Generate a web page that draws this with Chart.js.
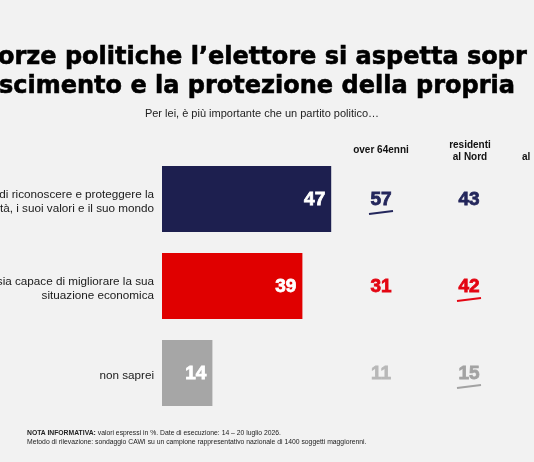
<!DOCTYPE html>
<html lang="it">
<head>
<meta charset="UTF-8">
<title>Riconoscimento e protezione</title>
<script src="https://cdn.jsdelivr.net/npm/chart.js@4.4.1/dist/chart.umd.min.js"></script>
<style>
    html, body {
        margin: 0;
        padding: 0;
        width: 534px;
        height: 462px;
        overflow: hidden;
        background: #f2f2f2;
        font-family: 'Liberation Sans', Arial, sans-serif;
    }
    .wrap {
        position: relative;
        width: 534px;
        height: 462px;
    }
    #chart {
        position: absolute;
        left: 0;
        top: 0;
    }
    .title {
        position: absolute;
        white-space: nowrap;
        font-family: 'DejaVu Sans', sans-serif;
        font-weight: 700;
        font-size: 24px;
        color: #000;
        -webkit-text-stroke: 0.6px #000;
        line-height: 1;
    }
    .subtitle {
        position: absolute;
        left: 0;
        width: 524px;
        top: 107px;
        text-align: center;
        font-size: 11px;
        color: #222;
    }
    .head {
        position: absolute;
        font-size: 10px;
        font-weight: 700;
        color: #111;
        text-align: center;
        line-height: 12px;
        white-space: nowrap;
    }
    .note {
        position: absolute;
        left: 27px;
        top: 428px;
        font-size: 6.8px;
        line-height: 9px;
        color: #222;
        white-space: nowrap;
    }
</style>
</head>
<body>
<div class="wrap">
    <canvas id="chart" width="534" height="462"></canvas>
    <div class="title" style="left:-2px; top:44px;">orze politiche l’elettore si aspetta sopr</div>
    <div class="title" style="left:-1px; top:73px;">scimento e la protezione della propria</div>
    <div class="subtitle">Per lei, è più importante che un partito politico…</div>
    <div class="head" style="left:341px; top:144px; width:80px;">over 64enni</div>
    <div class="head" style="left:430px; top:139px; width:80px;">residenti<br>al Nord</div>
    <div class="head" style="left:522px; top:151px;">al</div>
    <div class="note"><b>NOTA INFORMATIVA:</b> valori espressi in %. Date di esecuzione: 14 – 20 luglio 2026.<br>Metodo di rilevazione: sondaggio CAWI su un campione rappresentativo nazionale di 1400 soggetti maggiorenni.</div>
</div>

<script>
    const categories = [
        ['sia capace di riconoscere e proteggere la', 'sua identità, i suoi valori e il suo mondo'],
        ['sia capace di migliorare la sua', 'situazione economica'],
        'non saprei'
    ];
    const totale = [47, 39, 14];
    const over64 = [57, 31, 11];
    const residentiNord = [43, 42, 15];
    const over64Evidenza = [true, false, false];
    const nordEvidenza = [false, true, true];

    const barColors = ['#1d1f4f', '#e00000', '#a6a6a6'];
    const valueColors = ['#24275c', '#e30613', '#a8a8a8'];

    // colonne a destra: valori per segmento
    const columns = [
        { x: 381, values: over64, marks: over64Evidenza, grey: '#b8b8b8' },
        { x: 469, values: residentiNord, marks: nordEvidenza, grey: '#a3a3a3' }
    ];

    function boldText(ctx, txt, x, y, color) {
        ctx.fillStyle = color;
        ctx.strokeStyle = color;
        ctx.lineWidth = 0.8;
        ctx.fillText(txt, x, y);
        ctx.strokeText(txt, x, y);
    }

    const labelsPlugin = {
        id: 'labels',
        afterDatasetsDraw(chart) {
            const ctx = chart.ctx;
            const meta = chart.getDatasetMeta(0);
            ctx.save();
            ctx.font = 'bold 19px "Liberation Sans", Arial, sans-serif';
            ctx.textBaseline = 'middle';
            meta.data.forEach((bar, i) => {
                ctx.textAlign = 'right';
                boldText(ctx, totale[i], bar.x - 6, bar.y + 1, '#ffffff');

                columns.forEach(col => {
                    const c = i === 2 ? col.grey : valueColors[i];
                    ctx.textAlign = 'center';
                    boldText(ctx, col.values[i], col.x, bar.y + 1, c);
                    if (col.marks[i]) {
                        ctx.strokeStyle = c;
                        ctx.lineWidth = 2;
                        ctx.beginPath();
                        ctx.moveTo(col.x - 12, bar.y + 15);
                        ctx.lineTo(col.x + 12, bar.y + 12);
                        ctx.stroke();
                    }
                });
            });
            ctx.restore();
        }
    };

    new Chart(document.getElementById('chart'), {
        type: 'bar',
        data: {
            labels: categories,
            datasets: [{
                data: totale,
                backgroundColor: barColors,
                barPercentage: 1,
                categoryPercentage: 0.76
            }]
        },
        options: {
            indexAxis: 'y',
            responsive: false,
            animation: false,
            layout: {
                padding: { left: 0, right: 12, top: 155.5, bottom: 45.5 }
            },
            plugins: {
                legend: { display: false },
                tooltip: { enabled: false }
            },
            scales: {
                x: {
                    display: false,
                    min: 0,
                    max: 100
                },
                y: {
                    border: { display: false },
                    grid: { display: false },
                    afterFit(scale) { scale.width = 162; },
                    ticks: {
                        padding: 0,
                        labelOffset: 3,
                        color: '#1a1a1a',
                        font: { family: '"Liberation Sans", Arial, sans-serif', size: 11.7, lineHeight: 1.2 }
                    }
                }
            }
        },
        plugins: [labelsPlugin]
    });
</script>
</body>
</html>
